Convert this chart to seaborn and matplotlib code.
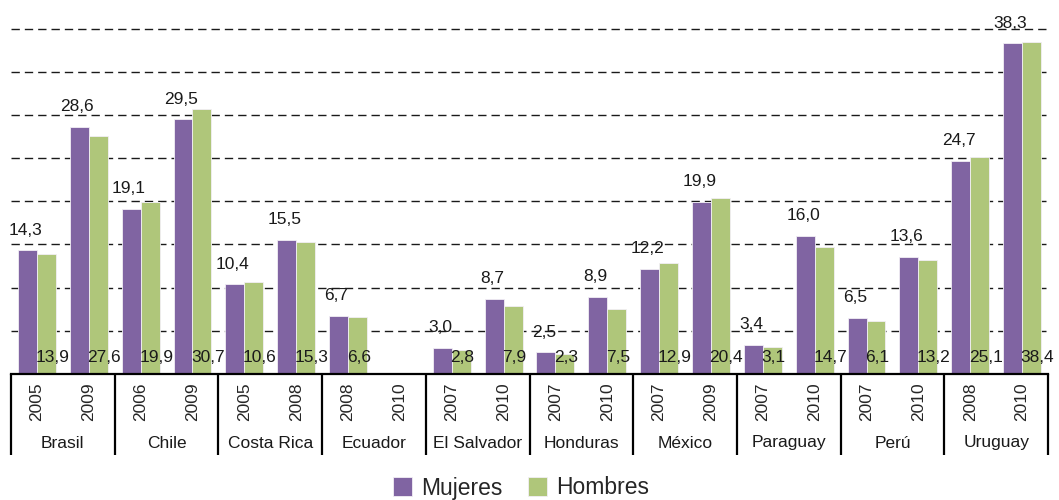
import numpy as np
import pandas as pd
import seaborn as sns
import matplotlib.pyplot as plt
import matplotlib.transforms as mtransforms

# datos
paises = ['Brasil', 'Chile', 'Costa Rica', 'Ecuador', 'El Salvador',
          'Honduras', 'México', 'Paraguay', 'Perú', 'Uruguay']
anios = ['2005', '2009', '2006', '2009', '2005', '2008', '2008', '2010', '2007', '2010',
         '2007', '2010', '2007', '2009', '2007', '2010', '2007', '2010', '2008', '2010']
mujeres = [14.3, 28.6, 19.1, 29.5, 10.4, 15.5, 6.7, np.nan, 3.0, 8.7,
           2.5, 8.9, 12.2, 19.9, 3.4, 16.0, 6.5, 13.6, 24.7, 38.3]
hombres = [13.9, 27.6, 19.9, 30.7, 10.6, 15.3, 6.6, np.nan, 2.8, 7.9,
           2.3, 7.5, 12.9, 20.4, 3.1, 14.7, 6.1, 13.2, 25.1, 38.4]

slots = [f'{paises[i // 2]} {anios[i]}' for i in range(len(anios))]
df = pd.DataFrame({
    'slot': slots * 2,
    'valor': mujeres + hombres,
    'sexo': ['Mujeres'] * len(slots) + ['Hombres'] * len(slots),
}).dropna()

sns.set_style('white')
plt.rcParams['font.family'] = ['Liberation Sans', 'DejaVu Sans']

fig = plt.figure(figsize=(10.59, 5), dpi=100)
ax = fig.add_axes([11 / 1059, 126 / 500, 1037 / 1059, 374 / 500])

sns.barplot(data=df, x='slot', y='valor', hue='sexo', order=slots,
            hue_order=['Mujeres', 'Hombres'],
            palette=['#8064A2', '#AFC67A'], saturation=1, width=0.73,
            edgecolor='#f2eff5', linewidth=0.6, ax=ax)

ax.set_ylim(0, 43.3)
ax.set_xlim(-0.5, len(slots) - 0.5)
ax.set_yticks(np.arange(5, 45, 5))
ax.set_yticklabels([])
ax.tick_params(axis='y', length=0)
ax.yaxis.grid(True, color='#1a1a1a', linestyle=(0, (6, 3.6)), linewidth=1.0)
ax.set_axisbelow(True)
for s in ['left', 'top', 'right']:
    ax.spines[s].set_visible(False)
ax.spines['bottom'].set_color('black')
ax.spines['bottom'].set_linewidth(1.6)
ax.set_xlabel('')
ax.set_ylabel('')

ax.set_xticks(range(len(slots)))
ax.set_xticklabels(anios, rotation=90, fontsize=12.5)
ax.tick_params(axis='x', length=0, pad=6)

fmt = lambda v: f'{v:.1f}'.replace('.', ',')

# etiquetas: mujeres arriba, hombres en la base
for p in ax.containers[0]:
    h = p.get_height()
    if np.isnan(h):
        continue
    ax.annotate(fmt(h), (p.get_x() + p.get_width() / 2, h), xytext=(-1.5, 14.5),
                textcoords='offset points', ha='center', va='center',
                fontsize=12.5, color='#1a1a1a')
for p in ax.containers[1]:
    h = p.get_height()
    if np.isnan(h):
        continue
    ax.annotate(fmt(h), (p.get_x(), 0), xytext=(-1, 12),
                textcoords='offset points', ha='left', va='center',
                fontsize=12.5, color='#1a1a1a')

# separadores y nombres de país
trans = mtransforms.blended_transform_factory(ax.transData, ax.transAxes)
for k in range(len(paises) + 1):
    xb = 2 * k - 0.5
    ax.plot([xb, xb], [0, -81 / 374], transform=trans, color='black',
            linewidth=1.6, clip_on=False, solid_capstyle='butt')
for k, pais in enumerate(paises):
    ax.text(2 * k + 0.5, -69 / 374, pais, transform=trans, ha='center',
            va='center', fontsize=12.5, color='#1a1a1a')

handles, labels = ax.get_legend_handles_labels()
ax.legend(handles, labels, loc='center', bbox_to_anchor=(0.492, 0.024),
          bbox_transform=fig.transFigure, ncol=2, frameon=False, fontsize=16.5,
          handlelength=0.85, handleheight=0.85, handletextpad=0.4,
          columnspacing=1.1)

fig.savefig('out.png', dpi=100)
